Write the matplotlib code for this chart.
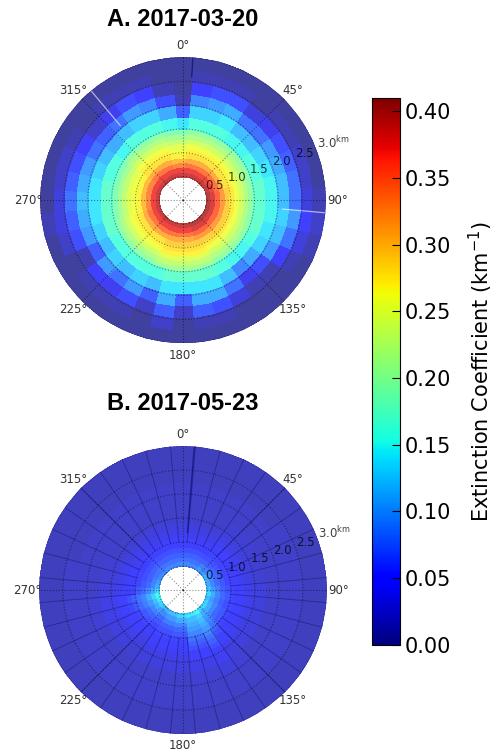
import numpy as np
import matplotlib
matplotlib.use("Agg")
import matplotlib.pyplot as plt
from matplotlib.colors import Normalize, ListedColormap
from matplotlib.cm import ScalarMappable

# range bins (km) and 10 degree azimuth sectors centred on 0, 10, ... 350
range_edges_km = [0.5, 0.6, 0.7, 0.8, 0.9, 1.0, 1.1, 1.2, 1.3, 1.4, 1.5,
                  1.75, 2.0, 2.25, 2.5, 2.75, 3.0]
sector_width_deg = 10

# extinction (km^-1), one row per sector (0 deg first), inner ring -> outer ring
ext_a = [
    [0.39, 0.37, 0.33, 0.30, 0.27, 0.26, 0.25, 0.23, 0.21, 0.19, 0.14, 0.07, 0.01, 0.0, 0.0, 0.0],
    [0.39, 0.37, 0.34, 0.31, 0.28, 0.27, 0.26, 0.24, 0.22, 0.20, 0.16, 0.13, 0.09, 0.05, 0.01, 0.0],
    [0.39, 0.37, 0.34, 0.31, 0.28, 0.27, 0.26, 0.24, 0.22, 0.20, 0.16, 0.13, 0.10, 0.06, 0.01, 0.0],
    [0.39, 0.37, 0.34, 0.31, 0.28, 0.27, 0.26, 0.24, 0.22, 0.20, 0.16, 0.14, 0.11, 0.06, 0.01, 0.0],
    [0.39, 0.37, 0.34, 0.31, 0.28, 0.27, 0.26, 0.24, 0.22, 0.20, 0.15, 0.12, 0.08, 0.03, 0.0, 0.0],
    [0.39, 0.37, 0.34, 0.31, 0.28, 0.27, 0.26, 0.24, 0.22, 0.20, 0.15, 0.12, 0.08, 0.04, 0.01, 0.0],
    [0.39, 0.37, 0.34, 0.31, 0.28, 0.27, 0.26, 0.24, 0.22, 0.20, 0.16, 0.13, 0.10, 0.06, 0.01, 0.0],
    [0.39, 0.37, 0.34, 0.31, 0.28, 0.27, 0.26, 0.24, 0.22, 0.20, 0.16, 0.14, 0.11, 0.07, 0.02, 0.0],
    [0.40, 0.38, 0.35, 0.32, 0.29, 0.275, 0.26, 0.24, 0.22, 0.20, 0.17, 0.15, 0.12, 0.08, 0.02, 0.0],
    [0.40, 0.38, 0.35, 0.32, 0.29, 0.275, 0.26, 0.24, 0.22, 0.20, 0.17, 0.15, 0.12, 0.08, 0.03, 0.01],
    [0.40, 0.38, 0.35, 0.32, 0.29, 0.275, 0.26, 0.24, 0.22, 0.20, 0.17, 0.15, 0.13, 0.10, 0.05, 0.02],
    [0.40, 0.38, 0.35, 0.32, 0.29, 0.275, 0.26, 0.24, 0.22, 0.20, 0.17, 0.14, 0.12, 0.08, 0.03, 0.01],
    [0.40, 0.38, 0.35, 0.32, 0.29, 0.275, 0.26, 0.24, 0.22, 0.20, 0.16, 0.13, 0.10, 0.05, 0.01, 0.0],
    [0.40, 0.38, 0.35, 0.32, 0.29, 0.275, 0.26, 0.24, 0.22, 0.20, 0.15, 0.11, 0.06, 0.01, 0.0, 0.0],
    [0.40, 0.38, 0.35, 0.32, 0.29, 0.275, 0.26, 0.24, 0.22, 0.20, 0.15, 0.09, 0.04, 0.01, 0.0, 0.0],
    [0.40, 0.38, 0.35, 0.32, 0.29, 0.275, 0.26, 0.24, 0.22, 0.20, 0.16, 0.12, 0.08, 0.03, 0.0, 0.0],
    [0.40, 0.38, 0.35, 0.32, 0.29, 0.28, 0.27, 0.25, 0.23, 0.21, 0.17, 0.14, 0.11, 0.06, 0.01, 0.0],
    [0.39, 0.37, 0.34, 0.31, 0.29, 0.28, 0.27, 0.25, 0.23, 0.21, 0.17, 0.14, 0.11, 0.07, 0.01, 0.0],
    [0.39, 0.37, 0.34, 0.31, 0.29, 0.28, 0.27, 0.25, 0.23, 0.21, 0.17, 0.14, 0.07, 0.02, 0.0, 0.0],
    [0.39, 0.37, 0.34, 0.31, 0.29, 0.28, 0.27, 0.25, 0.23, 0.21, 0.17, 0.14, 0.11, 0.07, 0.02, 0.0],
    [0.39, 0.37, 0.34, 0.31, 0.29, 0.28, 0.27, 0.25, 0.23, 0.21, 0.16, 0.12, 0.07, 0.02, 0.0, 0.0],
    [0.39, 0.37, 0.34, 0.31, 0.28, 0.27, 0.26, 0.24, 0.22, 0.20, 0.16, 0.13, 0.10, 0.06, 0.01, 0.0],
    [0.39, 0.37, 0.34, 0.31, 0.28, 0.27, 0.26, 0.24, 0.22, 0.20, 0.16, 0.12, 0.08, 0.04, 0.01, 0.0],
    [0.39, 0.37, 0.34, 0.31, 0.28, 0.27, 0.26, 0.24, 0.22, 0.20, 0.16, 0.13, 0.10, 0.05, 0.01, 0.0],
    [0.39, 0.37, 0.34, 0.31, 0.28, 0.27, 0.26, 0.24, 0.22, 0.20, 0.16, 0.12, 0.07, 0.01, 0.0, 0.0],
    [0.39, 0.37, 0.34, 0.31, 0.28, 0.27, 0.26, 0.24, 0.22, 0.20, 0.17, 0.13, 0.10, 0.06, 0.02, 0.0],
    [0.39, 0.37, 0.33, 0.30, 0.27, 0.26, 0.25, 0.23, 0.21, 0.19, 0.17, 0.14, 0.11, 0.07, 0.03, 0.01],
    [0.39, 0.37, 0.33, 0.30, 0.27, 0.26, 0.25, 0.23, 0.21, 0.19, 0.17, 0.14, 0.12, 0.08, 0.03, 0.0],
    [0.39, 0.37, 0.33, 0.30, 0.27, 0.26, 0.25, 0.23, 0.21, 0.19, 0.17, 0.14, 0.11, 0.07, 0.02, 0.0],
    [0.39, 0.37, 0.33, 0.30, 0.27, 0.26, 0.25, 0.23, 0.21, 0.19, 0.16, 0.13, 0.10, 0.06, 0.02, 0.0],
    [0.39, 0.37, 0.33, 0.30, 0.27, 0.26, 0.25, 0.23, 0.21, 0.19, 0.16, 0.12, 0.08, 0.05, 0.01, 0.0],
    [0.39, 0.37, 0.34, 0.31, 0.28, 0.27, 0.26, 0.24, 0.22, 0.20, 0.15, 0.11, 0.07, 0.02, 0.0, 0.0],
    [0.39, 0.37, 0.34, 0.31, 0.28, 0.27, 0.26, 0.24, 0.22, 0.20, 0.16, 0.12, 0.08, 0.04, 0.01, 0.0],
    [0.39, 0.37, 0.34, 0.31, 0.28, 0.27, 0.26, 0.24, 0.22, 0.20, 0.16, 0.13, 0.10, 0.06, 0.01, 0.0],
    [0.39, 0.37, 0.34, 0.31, 0.28, 0.27, 0.26, 0.24, 0.22, 0.20, 0.16, 0.13, 0.09, 0.05, 0.01, 0.0],
    [0.39, 0.37, 0.33, 0.30, 0.27, 0.26, 0.25, 0.23, 0.21, 0.19, 0.15, 0.11, 0.06, 0.01, 0.0, 0.0],
]

ext_b = [
    [0.09, 0.08, 0.07, 0.06, 0.05, 0.045, 0.04, 0.035, 0.03, 0.025, 0.02, 0.02, 0.02, 0.015, 0.015, 0.015],
    [0.09, 0.08, 0.07, 0.06, 0.05, 0.045, 0.04, 0.035, 0.03, 0.025, 0.02, 0.02, 0.02, 0.015, 0.015, 0.015],
    [0.09, 0.08, 0.07, 0.06, 0.05, 0.045, 0.04, 0.035, 0.03, 0.025, 0.02, 0.02, 0.02, 0.015, 0.015, 0.015],
    [0.09, 0.08, 0.07, 0.06, 0.05, 0.045, 0.04, 0.035, 0.03, 0.025, 0.02, 0.02, 0.02, 0.015, 0.015, 0.015],
    [0.10, 0.085, 0.07, 0.06, 0.055, 0.05, 0.045, 0.04, 0.035, 0.03, 0.025, 0.02, 0.02, 0.015, 0.015, 0.015],
    [0.10, 0.085, 0.07, 0.06, 0.055, 0.05, 0.045, 0.04, 0.035, 0.03, 0.025, 0.02, 0.02, 0.015, 0.015, 0.015],
    [0.11, 0.09, 0.075, 0.065, 0.055, 0.05, 0.045, 0.04, 0.035, 0.03, 0.025, 0.02, 0.02, 0.02, 0.015, 0.015],
    [0.11, 0.09, 0.075, 0.065, 0.055, 0.05, 0.045, 0.04, 0.035, 0.03, 0.025, 0.02, 0.02, 0.02, 0.015, 0.015],
    [0.11, 0.09, 0.075, 0.065, 0.055, 0.05, 0.045, 0.04, 0.035, 0.03, 0.025, 0.02, 0.02, 0.02, 0.015, 0.015],
    [0.12, 0.10, 0.085, 0.07, 0.06, 0.055, 0.05, 0.045, 0.04, 0.035, 0.03, 0.02, 0.02, 0.02, 0.015, 0.015],
    [0.13, 0.11, 0.09, 0.075, 0.065, 0.055, 0.05, 0.045, 0.04, 0.035, 0.03, 0.02, 0.02, 0.02, 0.015, 0.015],
    [0.12, 0.10, 0.085, 0.07, 0.06, 0.055, 0.05, 0.045, 0.04, 0.035, 0.03, 0.02, 0.02, 0.02, 0.015, 0.015],
    [0.13, 0.11, 0.09, 0.075, 0.065, 0.055, 0.05, 0.045, 0.04, 0.035, 0.03, 0.02, 0.02, 0.02, 0.015, 0.015],
    [0.13, 0.11, 0.09, 0.075, 0.065, 0.055, 0.05, 0.045, 0.04, 0.035, 0.03, 0.02, 0.02, 0.02, 0.015, 0.015],
    [0.13, 0.11, 0.10, 0.09, 0.08, 0.07, 0.06, 0.05, 0.045, 0.04, 0.03, 0.025, 0.02, 0.02, 0.015, 0.015],
    [0.15, 0.13, 0.12, 0.11, 0.10, 0.09, 0.08, 0.07, 0.06, 0.05, 0.04, 0.03, 0.02, 0.02, 0.015, 0.015],
    [0.14, 0.12, 0.11, 0.10, 0.09, 0.08, 0.07, 0.06, 0.05, 0.045, 0.035, 0.025, 0.02, 0.02, 0.015, 0.015],
    [0.14, 0.12, 0.11, 0.10, 0.09, 0.08, 0.07, 0.06, 0.05, 0.045, 0.035, 0.025, 0.02, 0.02, 0.015, 0.015],
    [0.13, 0.11, 0.09, 0.075, 0.065, 0.055, 0.05, 0.045, 0.04, 0.035, 0.03, 0.02, 0.02, 0.02, 0.015, 0.015],
    [0.13, 0.11, 0.09, 0.075, 0.065, 0.055, 0.05, 0.045, 0.04, 0.035, 0.03, 0.02, 0.02, 0.02, 0.015, 0.015],
    [0.12, 0.10, 0.085, 0.07, 0.06, 0.055, 0.05, 0.045, 0.04, 0.035, 0.03, 0.02, 0.02, 0.02, 0.015, 0.015],
    [0.12, 0.10, 0.085, 0.07, 0.06, 0.055, 0.05, 0.045, 0.04, 0.035, 0.03, 0.02, 0.02, 0.02, 0.015, 0.015],
    [0.11, 0.09, 0.075, 0.065, 0.055, 0.05, 0.045, 0.04, 0.035, 0.03, 0.025, 0.02, 0.02, 0.02, 0.015, 0.015],
    [0.12, 0.10, 0.085, 0.07, 0.06, 0.055, 0.05, 0.045, 0.04, 0.035, 0.03, 0.02, 0.02, 0.02, 0.015, 0.015],
    [0.13, 0.11, 0.09, 0.075, 0.065, 0.055, 0.05, 0.045, 0.04, 0.035, 0.03, 0.02, 0.02, 0.02, 0.015, 0.015],
    [0.14, 0.12, 0.10, 0.085, 0.075, 0.065, 0.055, 0.05, 0.045, 0.04, 0.035, 0.025, 0.02, 0.02, 0.015, 0.015],
    [0.15, 0.13, 0.11, 0.09, 0.08, 0.07, 0.06, 0.05, 0.045, 0.04, 0.035, 0.025, 0.02, 0.02, 0.015, 0.015],
    [0.13, 0.11, 0.09, 0.075, 0.065, 0.055, 0.05, 0.045, 0.04, 0.035, 0.03, 0.02, 0.02, 0.02, 0.015, 0.015],
    [0.11, 0.09, 0.075, 0.065, 0.055, 0.05, 0.045, 0.04, 0.035, 0.03, 0.025, 0.02, 0.02, 0.02, 0.015, 0.015],
    [0.10, 0.085, 0.07, 0.06, 0.055, 0.05, 0.045, 0.04, 0.035, 0.03, 0.025, 0.02, 0.02, 0.015, 0.015, 0.015],
    [0.09, 0.08, 0.07, 0.06, 0.05, 0.045, 0.04, 0.035, 0.03, 0.025, 0.02, 0.02, 0.02, 0.015, 0.015, 0.015],
    [0.09, 0.08, 0.07, 0.06, 0.05, 0.045, 0.04, 0.035, 0.03, 0.025, 0.02, 0.02, 0.02, 0.015, 0.015, 0.015],
    [0.09, 0.08, 0.07, 0.06, 0.05, 0.045, 0.04, 0.035, 0.03, 0.025, 0.02, 0.02, 0.02, 0.015, 0.015, 0.015],
    [0.09, 0.08, 0.07, 0.06, 0.05, 0.045, 0.04, 0.035, 0.03, 0.025, 0.02, 0.02, 0.02, 0.015, 0.015, 0.015],
    [0.09, 0.08, 0.07, 0.06, 0.05, 0.045, 0.04, 0.035, 0.03, 0.025, 0.02, 0.02, 0.02, 0.015, 0.015, 0.015],
    [0.09, 0.08, 0.07, 0.06, 0.05, 0.045, 0.04, 0.035, 0.03, 0.025, 0.02, 0.02, 0.02, 0.015, 0.015, 0.015],
]

# single-beam artefacts seen in the scans: (azimuth deg, start range km)
light_beams_a = [(320, 2.05), (95, 2.1)]
dark_beams_a = [(4, 2.6)]
dark_beams_b = [(4.5, 1.2)]

titles = ["A. 2017-03-20", "B. 2017-05-23"]
theta_ticks = [0, 45, 90, 135, 180, 225, 270, 315]
r_ticks = [0.5, 1.0, 1.5, 2.0, 2.5, 3.0]
cbar_ticks = [0.00, 0.05, 0.10, 0.15, 0.20, 0.25, 0.30, 0.35, 0.40]
vmax = 0.41

norm = Normalize(vmin=0, vmax=vmax)
cmap = plt.get_cmap("jet")
# the scans are drawn semi-transparent over white; bake that into the mesh colours
jet_rgb = cmap(np.linspace(0, 1, 256))[:, :3]
mesh_cmap = ListedColormap(jet_rgb * 0.75 + 0.25)


def draw_panel(ax, rows, light=(), dark=(), seams=False):
    n_sec = len(rows)
    th_edges = np.deg2rad(np.arange(n_sec + 1) * sector_width_deg - sector_width_deg / 2)
    T, R = np.meshgrid(th_edges, range_edges_km)
    C = np.array(rows).T
    ax.pcolormesh(T, R, C, cmap=mesh_cmap, norm=norm, shading="flat",
                  edgecolors="face", linewidth=0.3, zorder=1)

    if seams:
        for th in th_edges[:-1]:
            ax.plot([th, th], [1.0, 3.0], color=(0.1, 0.1, 0.45), alpha=0.55, lw=0.7, zorder=1.2)
    for az, r0 in light:
        ax.plot([np.deg2rad(az)] * 2, [r0, 3.0], color="white", alpha=0.6, lw=0.9, zorder=1.3)
    for az, r0 in dark:
        ax.plot([np.deg2rad(az)] * 2, [r0, 3.0], color=(0.05, 0.05, 0.5), alpha=0.7, lw=1.0, zorder=1.3)

    ax.set_theta_zero_location("N")
    ax.set_theta_direction(-1)
    ax.set_ylim(0, 3.0)
    ax.set_xticks(np.deg2rad(theta_ticks))
    ax.set_xticklabels([f"{t}°" for t in theta_ticks], fontsize=8.5, color="#333333")
    ax.set_yticks(r_ticks)
    ax.set_yticklabels([f"{r:.1f}" for r in r_ticks[:-1]] + [r"3.0$^{\mathrm{km}}$"])
    ax.set_rlabel_position(70)
    ax.tick_params(axis="y", labelsize=8.5, labelcolor=(0, 0, 0, 0.75))
    ax.tick_params(axis="x", pad=-2)
    ax.grid(True, color="black", linestyle=":", linewidth=0.8, alpha=0.45)
    ax.spines["polar"].set_visible(False)
    ax.set_facecolor("white")


fig = plt.figure(figsize=(5, 7.56), dpi=100)

ax_a = fig.add_axes([0.080, 0.546, 0.572, 0.378], projection="polar")
ax_b = fig.add_axes([0.078, 0.029, 0.576, 0.381], projection="polar")

draw_panel(ax_a, ext_a, light=light_beams_a, dark=dark_beams_a)
draw_panel(ax_b, ext_b, dark=dark_beams_b, seams=True)

fig.text(183 / 500, 1 - 19 / 756, titles[0], ha="center", va="center",
         fontsize=17, fontweight="bold", family="Liberation Sans")
fig.text(183 / 500, 1 - 404 / 756, titles[1], ha="center", va="center",
         fontsize=17, fontweight="bold", family="Liberation Sans")

cax = fig.add_axes([0.744, 0.147, 0.056, 0.7235])
cb = fig.colorbar(ScalarMappable(norm=norm, cmap=cmap), cax=cax, ticks=cbar_ticks)
cb.ax.set_yticklabels([f"{t:.2f}" for t in cbar_ticks])
cb.ax.tick_params(labelsize=15, direction="in", length=6, width=0.8)
cb.outline.set_linewidth(0.8)
cb.set_label("Extinction Coefficient (km$^{-1}$)", fontsize=15, labelpad=11)

fig.savefig("out.png", dpi=100)
